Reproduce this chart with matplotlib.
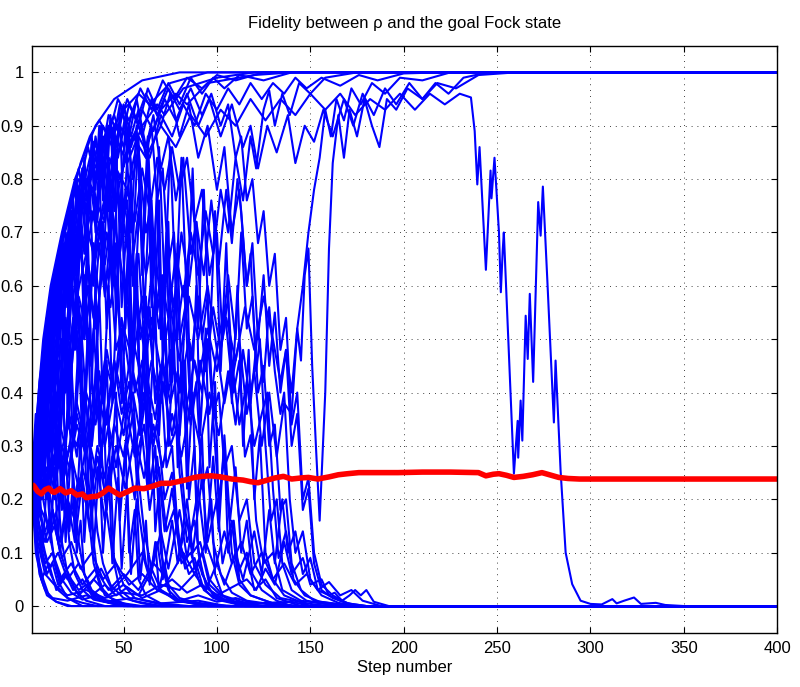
import matplotlib
matplotlib.use("Agg")
import matplotlib.pyplot as plt

# ---------------- data (step, fidelity) ----------------
up_a = [(1,.22),(3,.33),(5,.42),(7,.5),(11,.6),(17,.7),(24,.8),(35,.9),(45,.95),(60,.985),(80,1),(400,1)]
up_b = [(1,.22),(4,.34),(7,.44),(10,.52),(14,.6),(19,.68),(25,.75),(30,.8),(34,.78),(40,.87),(50,.93),(58,.96),(64,.94),(75,.98),(95,1),(400,1)]
up_c = [(1,.22),(4,.28),(8,.38),(12,.48),(16,.56),(20,.62),(23,.58),(28,.68),(33,.74),(36,.7),(42,.8),(48,.86),(52,.83),(60,.9),(68,.94),(72,.92),(82,.97),(100,.99),(120,1),(400,1)]
up_d = [(1,.22),(5,.3),(9,.36),(13,.44),(17,.5),(20,.46),(25,.58),(30,.66),(33,.6),(38,.72),(43,.8),(46,.76),(52,.86),(58,.9),(62,.86),(70,.93),(78,.96),(84,.94),(95,.98),(120,.995),(140,1),(400,1)]
scal_1 = [(1,.22),(3,.32),(6,.44),(9,.54),(13,.62),(17,.69),(22,.76),(27,.83),(32,.88),(37,.91),(42,.88),(47,.95),(53,.91),(59,.97),(65,.93),(71,.985),(77,.95),(84,.99),(92,.97),(100,.995),(110,.985),(125,1),(400,1)]
scal_2 = [(1,.22),(3,.3),(6,.4),(9,.5),(12,.58),(16,.66),(20,.72),(24,.78),(28,.74),(33,.84),(38,.8),(43,.9),(48,.86),(53,.94),(58,.9),(63,.97),(68,.93),(74,.98),(80,.94),(86,.99),(92,.96),(98,.99),(104,.97),(112,.995),(125,.985),(140,1),(400,1)]
late_1 = [(1,.22),(4,.26),(8,.3),(12,.26),(16,.34),(20,.28),(25,.38),(30,.3),(35,.42),(40,.34),(45,.46),(50,.38),(55,.5),(60,.42),(65,.54),(70,.44),(75,.56),(80,.46),(85,.58),(90,.5),(95,.6),(100,.48),(104,.56),(108,.42),(112,.5),(116,.36),(120,.44),(124,.3),(128,.4),(132,.28),(136,.38),(140,.36),(143,.52),(145,.46),(147,.62),(149,.67),(151,.45),(153,.3),(155,.16),(158,.4),(160,.67),(162,.83),(165,.92),(168,.84),(171,.93),(175,.88),(179,.95),(183,.9),(187,.86),(191,.95),(196,.93),(202,.97),(210,.95),(218,.98),(228,.97),(240,.995),(260,1),(400,1)]
late_2 = [(1,.22),(5,.24),(10,.3),(15,.26),(20,.34),(25,.3),(30,.4),(35,.34),(40,.46),(45,.4),(50,.52),(55,.46),(60,.58),(65,.5),(70,.62),(74,.54),(78,.66),(82,.58),(86,.7),(90,.62),(94,.74),(98,.66),(102,.78),(106,.7),(110,.84),(114,.76),(118,.88),(121,.82),(125,.93),(128,.966),(131,.9),(135,.96),(139,.92),(144,.98),(150,.96),(158,.99),(175,1),(400,1)]
late_3 = [(1,.22),(3,.3),(6,.42),(9,.52),(12,.6),(16,.67),(20,.72),(25,.79),(30,.76),(36,.86),(42,.82),(48,.9),(54,.86),(60,.93),(66,.89),(72,.95),(78,.91),(84,.96),(90,.9),(96,.95),(102,.88),(108,.94),(114,.86),(118,.9),(122,.82),(127,.9),(132,.85),(138,.92),(142,.83),(147,.9),(152,.87),(157,.93),(162,.88),(168,.95),(173,.9),(178,.96),(184,.92),(190,.97),(196,.94),(203,.98),(210,.95),(217,.98),(224,.96),(232,.99),(245,1),(400,1)]
late_4 = [(1,.22),(4,.28),(8,.36),(12,.46),(16,.54),(20,.62),(25,.7),(30,.66),(35,.76),(40,.72),(46,.82),(52,.78),(58,.88),(64,.84),(70,.92),(76,.88),(82,.94),(88,.9),(94,.96),(100,.93),(106,.97),(112,.94),(118,.98),(124,.95),(130,.98),(136,.96),(142,.99),(148,.97),(156,.99),(166,.975),(176,.995),(186,.985),(200,.998),(220,1),(400,1)]
late_5 = [(1,.22),(5,.26),(10,.22),(15,.3),(20,.24),(25,.34),(30,.28),(35,.38),(40,.3),(45,.4),(50,.32),(55,.44),(60,.36),(65,.46),(70,.38),(75,.48),(80,.4),(85,.5),(90,.42),(95,.52),(100,.44),(105,.54),(110,.46),(115,.56),(120,.48),(125,.58),(130,.5),(134,.42),(137,.48),(140,.4),(143,.52),(146,.6),(149,.7),(152,.78),(155,.84),(158,.93),(161,.88),(164,.95),(168,.91),(172,.97),(177,.94),(183,.98),(190,.96),(198,.99),(210,.985),(225,1),(400,1)]
long_fall = [(1,.22),(4,.32),(8,.44),(12,.54),(16,.62),(20,.68),(25,.74),(30,.8),(36,.76),(42,.84),(48,.8),(55,.88),(62,.84),(70,.9),(78,.86),(86,.92),(94,.88),(102,.93),(110,.9),(118,.95),(126,.91),(134,.95),(142,.92),(150,.96),(158,.93),(166,.96),(174,.92),(182,.95),(190,.93),(198,.96),(206,.93),(214,.96),(222,.94),(230,.96),(236,.953),(238,.89),(239.4,.79),(240.6,.86),(244,.63),(246.5,.816),(247,.764),(248.6,.84),(251,.70),(252,.588),(253,.666),(253.6,.70),(259,.248),(261,.347),(261.3,.278),(262.6,.385),(263.5,.31),(265.3,.544),(266.4,.463),(267.5,.585),(269.3,.42),(272,.757),(273.3,.694),(274.5,.786),(276.9,.61),(280.4,.344),(281.3,.46),(284,.253),(286.7,.10),(290.2,.041),(294.7,.01),(300,.004),(306,.003),(311.7,.013),(314,.005),(318,.01),(323.3,.016),(327,.004),(335,.006),(340,.002),(350,0),(400,0)]
jag_1 = [(1,.22),(4,.3),(7,.4),(9,.35),(12,.5),(14,.44),(17,.58),(19,.5),(22,.62),(24,.55),(27,.45),(30,.3),(33,.15),(36,.06),(40,.02),(50,.005),(60,0),(400,0)]
jag_2 = [(1,.22),(3,.28),(6,.38),(8,.33),(11,.48),(13,.42),(16,.6),(18,.52),(21,.7),(23,.62),(26,.72),(29,.6),(32,.45),(34,.52),(37,.35),(40,.2),(44,.1),(50,.04),(56,.015),(70,.003),(80,0),(400,0)]
jag_3 = [(1,.22),(4,.26),(7,.34),(10,.42),(12,.36),(15,.5),(18,.56),(20,.48),(24,.66),(27,.74),(29,.66),(32,.8),(35,.72),(38,.84),(41,.76),(44,.6),(46,.68),(49,.45),(52,.3),(55,.36),(58,.18),(62,.08),(68,.03),(80,.01),(100,.002),(110,0),(400,0)]
jag_4 = [(1,.22),(5,.3),(9,.42),(13,.55),(17,.66),(20,.6),(24,.74),(28,.82),(31,.76),(35,.88),(39,.8),(43,.9),(47,.84),(51,.92),(55,.8),(58,.86),(62,.7),(65,.76),(68,.55),(71,.62),(74,.4),(77,.45),(80,.25),(84,.12),(88,.16),(92,.06),(98,.02),(110,.005),(120,0),(400,0)]
jag_5 = [(1,.22),(4,.2),(7,.26),(10,.34),(13,.3),(16,.42),(19,.5),(22,.44),(26,.58),(30,.52),(34,.66),(37,.58),(41,.7),(45,.62),(49,.5),(52,.56),(56,.4),(60,.46),(64,.3),(68,.34),(72,.2),(76,.25),(80,.12),(85,.06),(90,.08),(96,.03),(105,.01),(115,0),(400,0)]
jag_6 = [(1,.22),(3,.3),(6,.42),(9,.54),(12,.6),(15,.64),(18,.7),(21,.74),(24,.7),(27,.8),(31,.86),(35,.8),(39,.9),(44,.86),(48,.94),(53,.88),(57,.95),(62,.86),(66,.92),(70,.82),(74,.88),(78,.76),(82,.84),(86,.66),(89,.72),(92,.5),(95,.58),(98,.35),(101,.2),(104,.28),(108,.1),(112,.04),(118,.02),(130,.005),(140,0),(400,0)]
jag_7 = [(1,.22),(4,.18),(8,.14),(12,.18),(16,.12),(20,.2),(24,.16),(28,.26),(32,.2),(36,.3),(40,.24),(45,.34),(50,.28),(55,.4),(59,.32),(63,.42),(67,.35),(71,.46),(75,.38),(79,.44),(83,.36),(88,.46),(92,.4),(95,.5),(98,.36),(101,.4),(104,.26),(108,.3),(112,.16),(116,.2),(120,.08),(126,.04),(134,.015),(150,.004),(160,0),(400,0)]
jag_8 = [(1,.22),(5,.26),(9,.32),(13,.4),(17,.36),(21,.48),(25,.56),(29,.5),(33,.62),(37,.7),(40,.64),(44,.74),(48,.66),(52,.78),(56,.72),(60,.82),(64,.74),(68,.84),(72,.78),(76,.86),(80,.78),(84,.84),(88,.72),(92,.78),(96,.62),(100,.7),(103,.5),(106,.58),(109,.4),(112,.46),(115,.28),(118,.32),(121,.16),(125,.08),(130,.1),(135,.03),(145,.01),(160,.003),(170,0),(400,0)]
jag_9 = [(1,.22),(4,.3),(8,.44),(12,.56),(16,.64),(20,.7),(24,.68),(28,.78),(32,.84),(36,.8),(40,.88),(45,.92),(50,.86),(55,.93),(60,.88),(65,.95),(70,.9),(75,.96),(80,.88),(85,.94),(90,.84),(95,.9),(100,.78),(104,.86),(108,.7),(112,.78),(116,.6),(119,.68),(122,.5),(125,.62),(128,.45),(131,.55),(134,.4),(137,.48),(140,.3),(143,.36),(146,.18),(149,.22),(152,.08),(156,.03),(162,.015),(170,.005),(180,0),(400,0)]
jag_10 = [(1,.22),(3,.3),(6,.4),(9,.5),(12,.58),(15,.65),(18,.7),(22,.76),(26,.8),(30,.78),(34,.87),(38,.84),(42,.92),(47,.89),(52,.95),(57,.91),(62,.96),(68,.92),(74,.97),(80,.93),(86,.97),(92,.92),(97,.96),(102,.9),(106,.94),(110,.84),(113,.88),(116,.76),(119,.8),(122,.68),(125,.74),(128,.6),(131,.66),(134,.48),(137,.54),(140,.34),(143,.4),(146,.2),(149,.24),(152,.1),(156,.04),(162,.02),(170,.005),(180,0),(400,0)]
jag_11 = [(1,.22),(4,.3),(7,.38),(10,.33),(13,.46),(16,.4),(19,.54),(22,.46),(25,.6),(28,.5),(31,.64),(34,.54),(37,.68),(40,.58),(43,.7),(46,.6),(50,.72),(54,.62),(58,.74),(62,.62),(66,.7),(70,.56),(74,.64),(78,.5),(82,.6),(86,.46),(90,.58),(94,.44),(98,.56),(102,.48),(106,.62),(110,.5),(113,.7),(116,.52),(119,.58),(122,.4),(125,.45),(128,.3),(131,.34),(134,.18),(137,.2),(140,.08),(145,.03),(152,.01),(165,.003),(175,0),(400,0)]
jag_12 = [(1,.22),(5,.2),(9,.26),(13,.22),(17,.3),(21,.26),(25,.36),(29,.3),(33,.42),(37,.34),(41,.48),(45,.4),(49,.54),(53,.44),(57,.58),(61,.48),(65,.62),(69,.52),(73,.66),(77,.56),(81,.7),(85,.6),(89,.72),(93,.62),(97,.76),(101,.64),(105,.78),(108,.68),(111,.8),(113,.74),(116,.6),(118,.66),(121,.44),(123,.5),(126,.3),(129,.16),(132,.2),(135,.08),(140,.03),(148,.01),(160,.003),(170,0),(400,0)]
jag_13 = [(1,.22),(6,.18),(11,.14),(16,.2),(21,.16),(26,.24),(31,.18),(36,.28),(41,.2),(46,.3),(51,.22),(56,.32),(61,.24),(66,.34),(71,.26),(76,.36),(81,.28),(86,.38),(91,.3),(96,.4),(101,.32),(106,.44),(110,.34),(114,.48),(118,.38),(122,.52),(125,.42),(128,.56),(131,.44),(134,.36),(136,.4),(139,.2),(142,.1),(146,.14),(150,.05),(156,.02),(165,.006),(175,0),(400,0)]
swing_1 = [(1,.22),(3,.3),(5,.24),(7,.4),(9,.3),(11,.52),(13,.38),(15,.6),(17,.44),(19,.66),(21,.5),(23,.7),(25,.52),(27,.72),(29,.5),(31,.68),(33,.42),(35,.6),(37,.3),(39,.44),(41,.18),(43,.26),(45,.08),(48,.03),(55,.01),(70,0),(400,0)]
swing_2 = [(1,.22),(3,.28),(5,.2),(8,.36),(10,.26),(12,.46),(14,.34),(17,.56),(19,.42),(22,.64),(24,.48),(27,.72),(29,.56),(32,.78),(34,.6),(37,.82),(39,.62),(42,.84),(44,.62),(47,.8),(49,.56),(52,.74),(54,.46),(57,.66),(59,.36),(62,.5),(64,.22),(67,.3),(70,.1),(74,.04),(80,.015),(95,0),(400,0)]
swing_3 = [(1,.22),(3,.18),(5,.28),(7,.2),(9,.34),(11,.22),(13,.4),(15,.26),(17,.44),(19,.28),(21,.48),(23,.3),(26,.5),(28,.3),(31,.52),(33,.3),(36,.5),(38,.26),(41,.46),(43,.22),(46,.4),(48,.16),(51,.3),(53,.1),(56,.18),(58,.05),(62,.02),(70,.005),(85,0),(400,0)]
swing_4 = [(1,.22),(3,.3),(6,.42),(8,.34),(10,.54),(12,.44),(14,.62),(16,.5),(18,.68),(20,.56),(23,.76),(25,.62),(28,.82),(30,.66),(33,.86),(35,.7),(38,.9),(40,.72),(43,.92),(45,.74),(48,.93),(50,.72),(53,.9),(55,.68),(58,.88),(60,.62),(63,.84),(65,.56),(68,.78),(70,.5),(73,.7),(75,.42),(78,.6),(80,.32),(83,.46),(85,.2),(88,.3),(90,.1),(94,.04),(100,.015),(115,0),(400,0)]
swing_5 = [(1,.22),(4,.26),(6,.2),(9,.32),(11,.24),(14,.4),(16,.3),(19,.48),(21,.36),(24,.56),(26,.42),(29,.62),(31,.46),(34,.68),(36,.5),(39,.72),(41,.52),(44,.76),(46,.54),(49,.78),(51,.56),(54,.8),(56,.56),(59,.8),(61,.54),(64,.78),(66,.5),(69,.76),(71,.46),(74,.72),(76,.42),(79,.68),(81,.4),(84,.64),(86,.36),(89,.6),(91,.32),(94,.52),(96,.26),(99,.42),(101,.18),(104,.3),(106,.1),(109,.16),(112,.05),(118,.02),(130,.005),(145,0),(400,0)]
swing_6 = [(1,.22),(3,.14),(5,.22),(7,.12),(9,.24),(11,.12),(13,.26),(15,.12),(17,.28),(19,.12),(22,.3),(24,.12),(27,.32),(29,.12),(32,.3),(34,.1),(37,.28),(39,.1),(42,.26),(44,.08),(47,.24),(49,.07),(52,.22),(54,.06),(57,.2),(59,.05),(62,.16),(64,.04),(67,.12),(69,.03),(72,.08),(75,.02),(80,.01),(95,0),(400,0)]
swing_7 = [(1,.22),(3,.33),(5,.4),(7,.34),(9,.54),(11,.46),(13,.62),(15,.54),(17,.69),(19,.6),(21,.75),(23,.66),(25,.8),(27,.7),(29,.84),(31,.74),(33,.88),(35,.78),(37,.9),(39,.76),(41,.9),(43,.7),(45,.86),(47,.62),(49,.8),(51,.52),(53,.72),(55,.42),(57,.62),(59,.32),(61,.5),(63,.22),(65,.36),(67,.14),(69,.22),(71,.07),(74,.03),(80,.01),(95,0),(400,0)]
swing_8 = [(1,.22),(4,.2),(7,.3),(9,.22),(12,.36),(14,.26),(17,.42),(19,.3),(22,.46),(24,.32),(27,.5),(29,.34),(32,.54),(34,.36),(37,.58),(39,.38),(42,.6),(44,.38),(47,.62),(49,.38),(52,.62),(54,.38),(57,.6),(59,.36),(62,.58),(64,.34),(67,.56),(69,.32),(72,.54),(74,.3),(77,.5),(79,.26),(82,.46),(84,.22),(87,.4),(89,.18),(92,.32),(94,.12),(97,.2),(99,.06),(103,.02),(110,.005),(125,0),(400,0)]
swing_9 = [(1,.22),(3,.26),(5,.18),(7,.3),(9,.2),(11,.34),(13,.2),(15,.34),(17,.18),(19,.3),(21,.14),(23,.24),(25,.1),(27,.16),(29,.06),(32,.03),(38,.01),(50,0),(400,0)]
swing_10 = [(1,.22),(3,.3),(5,.38),(7,.32),(9,.48),(11,.42),(13,.58),(15,.5),(17,.64),(19,.56),(21,.7),(24,.62),(27,.78),(30,.68),(33,.84),(36,.72),(39,.88),(42,.74),(45,.9),(48,.72),(51,.9),(54,.7),(57,.9),(60,.66),(63,.88),(66,.62),(69,.86),(72,.6),(75,.86),(78,.58),(81,.84),(84,.56),(87,.82),(90,.52),(93,.78),(96,.48),(99,.74),(102,.44),(105,.68),(108,.38),(111,.6),(114,.3),(117,.48),(120,.2),(123,.32),(126,.1),(130,.05),(136,.02),(150,0),(400,0)]
fan_1 = [(1,.22),(2,.28),(3,.34),(4,.3),(5,.38),(6,.33),(7,.44),(8,.36),(9,.3),(10,.22),(11,.14),(13,.08),(16,.04),(20,.015),(28,0),(400,0)]
fan_2 = [(1,.22),(2,.26),(3,.22),(4,.3),(5,.25),(6,.34),(7,.28),(8,.4),(9,.32),(10,.46),(11,.38),(12,.5),(13,.4),(14,.3),(15,.2),(17,.12),(20,.06),(24,.03),(30,.01),(40,0),(400,0)]
fan_3 = [(1,.22),(2,.2),(3,.26),(4,.22),(5,.3),(6,.24),(7,.34),(8,.26),(9,.36),(10,.28),(11,.4),(12,.3),(13,.42),(14,.32),(15,.46),(16,.34),(17,.5),(18,.36),(19,.52),(20,.38),(22,.3),(24,.2),(26,.12),(29,.06),(33,.03),(40,.01),(50,0),(400,0)]
fan_4 = [(1,.22),(2,.3),(3,.36),(4,.32),(5,.4),(6,.36),(7,.46),(8,.4),(9,.5),(10,.44),(11,.56),(12,.48),(13,.6),(14,.52),(15,.64),(16,.56),(17,.66),(18,.58),(19,.7),(20,.6),(21,.72),(22,.62),(23,.74),(25,.6),(27,.46),(29,.3),(31,.18),(34,.08),(38,.03),(45,.01),(55,0),(400,0)]
spike_1 = [(1,.22),(3,.1),(6,.05),(10,.08),(14,.03),(20,.06),(26,.02),(34,.05),(42,.02),(50,.04),(58,.02),(64,.06),(68,.12),(71,.05),(76,.16),(79,.08),(84,.2),(87,.1),(92,.24),(95,.12),(100,.2),(103,.08),(108,.16),(111,.06),(116,.1),(120,.03),(126,.05),(132,.015),(145,0),(400,0)]
spike_2 = [(1,.22),(4,.12),(8,.06),(13,.04),(20,.02),(30,.03),(40,.015),(50,.025),(60,.02),(70,.04),(80,.03),(88,.06),(94,.03),(100,.08),(104,.04),(110,.1),(114,.05),(120,.14),(124,.06),(128,.18),(131,.08),(135,.2),(138,.1),(142,.14),(146,.06),(150,.09),(154,.03),(160,.02),(166,.01),(175,0),(400,0)]
spike_3 = [(1,.22),(3,.18),(6,.12),(10,.07),(15,.1),(20,.05),(26,.08),(32,.04),(38,.07),(44,.03),(52,.06),(60,.1),(64,.05),(70,.14),(74,.07),(80,.18),(84,.09),(90,.22),(94,.1),(98,.28),(101,.14),(104,.32),(107,.16),(110,.26),(113,.1),(116,.16),(119,.06),(124,.03),(132,.01),(140,0),(400,0)]
mid_1 = [(1,.22),(4,.16),(8,.12),(12,.18),(16,.1),(20,.2),(24,.12),(28,.24),(32,.14),(36,.26),(40,.16),(44,.28),(48,.18),(52,.3),(56,.2),(60,.32),(64,.18),(68,.28),(72,.14),(76,.22),(80,.1),(84,.16),(88,.07),(92,.1),(96,.04),(102,.02),(110,.008),(130,.003),(140,0),(400,0)]
mid_2 = [(1,.22),(5,.28),(9,.22),(13,.32),(17,.26),(21,.36),(25,.28),(29,.4),(33,.3),(37,.44),(41,.34),(45,.46),(49,.36),(53,.42),(57,.28),(61,.34),(65,.22),(69,.26),(73,.14),(77,.18),(81,.08),(86,.1),(91,.04),(98,.015),(110,.005),(120,0),(400,0)]
mid_3 = [(1,.22),(6,.2),(11,.26),(16,.2),(21,.3),(26,.22),(31,.32),(36,.24),(41,.36),(46,.26),(51,.38),(56,.28),(61,.4),(66,.3),(71,.42),(76,.32),(81,.44),(86,.34),(91,.46),(96,.36),(100,.48),(104,.38),(108,.46),(112,.34),(116,.42),(120,.3),(124,.36),(127,.4),(130,.22),(133,.09),(137,.14),(141,.05),(147,.02),(155,.008),(170,.002),(180,0),(400,0)]
crash_1 = [(1,.22),(3,.27),(5,.33),(7,.3),(9,.38),(11,.34),(13,.42),(15,.36),(17,.28),(19,.2),(21,.12),(24,.06),(28,.03),(34,.012),(45,.004),(55,0),(400,0)]
crash_2 = [(1,.22),(4,.3),(7,.42),(10,.52),(12,.46),(15,.6),(17,.54),(20,.66),(22,.58),(25,.5),(27,.54),(30,.38),(33,.26),(36,.14),(39,.08),(43,.04),(50,.015),(60,.005),(70,0),(400,0)]
crash_3 = [(1,.22),(3,.32),(5,.42),(8,.5),(11,.58),(14,.62),(17,.68),(19,.6),(22,.74),(25,.66),(28,.8),(31,.7),(34,.66),(37,.72),(40,.6),(43,.64),(46,.48),(49,.52),(52,.36),(55,.4),(58,.24),(61,.14),(65,.07),(70,.03),(78,.01),(90,.003),(100,0),(400,0)]
crash_4 = [(1,.22),(4,.24),(8,.3),(12,.38),(16,.46),(19,.4),(23,.54),(27,.48),(31,.6),(35,.52),(39,.64),(43,.56),(47,.68),(51,.58),(55,.66),(59,.5),(63,.56),(67,.4),(71,.46),(75,.3),(79,.34),(83,.18),(87,.1),(91,.12),(96,.05),(103,.02),(115,.006),(125,0),(400,0)]
crash_5 = [(1,.22),(3,.32),(6,.44),(9,.54),(12,.6),(15,.66),(18,.7),(22,.76),(26,.82),(30,.74),(34,.86),(38,.8),(42,.9),(46,.86),(50,.94),(54,.88),(58,.93),(62,.84),(65,.9),(68,.76),(71,.82),(74,.64),(77,.7),(80,.5),(83,.56),(86,.36),(89,.42),(92,.22),(95,.26),(98,.12),(102,.06),(108,.025),(116,.01),(130,.003),(140,0),(400,0)]
crash_6 = [(1,.22),(4,.34),(7,.46),(10,.56),(13,.6),(16,.66),(19,.62),(22,.74),(25,.7),(28,.8),(31,.76),(34,.86),(37,.8),(40,.88),(43,.78),(46,.84),(49,.7),(52,.76),(55,.6),(58,.66),(61,.5),(64,.56),(67,.38),(70,.44),(73,.26),(76,.3),(79,.14),(83,.07),(88,.09),(93,.03),(100,.012),(110,.004),(120,0),(400,0)]
low_1 = [(1,.22),(3,.16),(6,.1),(9,.06),(12,.08),(15,.04),(19,.06),(23,.03),(28,.05),(33,.02),(40,.04),(46,.02),(52,.035),(60,.015),(70,.03),(80,.01),(90,.02),(100,.008),(110,.015),(120,.005),(140,.008),(150,0),(400,0)]
low_2 = [(1,.22),(4,.14),(8,.08),(12,.1),(16,.05),(22,.08),(28,.04),(35,.07),(42,.03),(50,.06),(58,.03),(66,.08),(74,.05),(82,.1),(88,.06),(94,.12),(99,.07),(104,.14),(108,.08),(113,.12),(118,.06),(124,.1),(130,.05),(136,.08),(142,.04),(148,.06),(154,.03),(160,.045),(166,.02),(172,.03),(178,.01),(188,0),(400,0)]
low_3 = [(1,.22),(3,.12),(5,.06),(8,.03),(12,.015),(20,.01),(30,.02),(40,.008),(55,.015),(70,.005),(90,.01),(105,0),(400,0)]
low_4 = [(1,.22),(2,.18),(4,.1),(6,.05),(9,.02),(14,.008),(22,0),(400,0)]
low_5 = [(1,.22),(5,.18),(9,.12),(13,.15),(17,.09),(22,.12),(27,.07),(33,.1),(39,.05),(46,.08),(53,.04),(60,.06),(68,.03),(76,.05),(84,.025),(92,.04),(100,.02),(108,.035),(116,.05),(121,.03),(126,.07),(131,.04),(136,.12),(140,.06),(146,.09),(150,.04),(156,.05),(160,.02),(163,.025),(167,.01),(171,.02),(174,.03),(177,.02),(180,.03),(184,.008),(192,0),(400,0)]
quick_1 = [(1,.22),(2,.17),(3,.13),(5,.08),(7,.05),(10,.02),(14,.008),(20,0),(400,0)]
quick_2 = [(1,.22),(3,.2),(5,.15),(8,.1),(11,.06),(15,.03),(20,.015),(28,.006),(36,0),(400,0)]
quick_3 = [(1,.22),(4,.24),(7,.2),(10,.14),(13,.09),(17,.05),(22,.025),(28,.012),(36,.02),(42,.006),(52,0),(400,0)]
quick_4 = [(1,.22),(3,.25),(6,.28),(9,.24),(12,.18),(15,.12),(18,.08),(22,.05),(26,.03),(30,.04),(35,.015),(45,.008),(55,0),(400,0)]

mean_steps = [1,2,4,6,8,10,12,13,16,19,22,25,28,30,33,36,39,42,45,48,52,56,61,66,70,75,79,84,88,92,97,102,108,114,118,122,126,131,135.6,140,145,149,154,160,165,170,176,185,197,210,225,240,244,248,251,255,259,264,269,274,278,283,288,294,400]
mean_fid = [.228,.225,.215,.21,.218,.221,.214,.213,.22,.212,.216,.208,.21,.203,.205,.206,.212,.221,.214,.208,.214,.221,.22,.225,.23,.23,.233,.237,.241,.243,.244,.242,.238,.236,.233,.231,.235,.24,.243,.238,.24,.241,.238,.242,.246,.248,.25,.25,.25,.251,.251,.25,.244,.247,.248,.245,.241,.243,.246,.25,.246,.241,.239,.238,.238]

x_ticks = [50, 100, 150, 200, 250, 300, 350, 400]
y_ticks = [0, 0.1, 0.2, 0.3, 0.4, 0.5, 0.6, 0.7, 0.8, 0.9, 1]
y_tick_labels = ['0', '0.1', '0.2', '0.3', '0.4', '0.5', '0.6', '0.7', '0.8', '0.9', '1']

blue_curves = [quick_1, quick_2, quick_3, quick_4, low_1, low_2, low_3, low_4, low_5,
               spike_1, spike_2, spike_3, fan_1, fan_2, fan_3, fan_4,
               mid_1, mid_2, mid_3, crash_1, crash_2, crash_3, crash_4, crash_5, crash_6,
               swing_1, swing_2, swing_3, swing_4, swing_5, swing_6, swing_7, swing_8,
               swing_9, swing_10,
               jag_1, jag_2, jag_3, jag_4, jag_5, jag_6, jag_7, jag_8, jag_9, jag_10,
               jag_11, jag_12, jag_13, long_fall, late_1, late_2, late_3, late_4, late_5,
               scal_1, scal_2, up_a, up_b, up_c, up_d]

# ---------------- drawing ----------------
plt.rcParams['font.family'] = ['Liberation Sans', 'DejaVu Sans']
fig = plt.figure(figsize=(8.0, 6.87), dpi=100)
ax = fig.add_axes([0.040, 0.079, 0.9316, 0.8545])

for c in blue_curves:
    xs, ys = zip(*c)
    ax.plot(xs, ys, color=(0, 0, 1), lw=1.5, solid_joinstyle='round')

ax.plot(mean_steps, mean_fid, color=(1, 0, 0), lw=4.0, solid_capstyle='butt')

ax.set_xlim(1, 400)
ax.set_ylim(-0.05, 1.05)
ax.set_xticks(x_ticks)
ax.set_yticks(y_ticks)
ax.set_yticklabels(y_tick_labels)
ax.grid(True, color='black', linestyle=(0, (1, 6)), linewidth=0.6)
ax.tick_params(direction='in', length=4, width=0.8, top=True, right=True,
               labelsize=12, pad=6)
for s in ax.spines.values():
    s.set_linewidth(1.0)
ax.set_title('Fidelity between ρ and the goal Fock state', fontsize=12, pad=13)
ax.set_xlabel('Step number', fontsize=12, labelpad=3)

fig.savefig('out.png', dpi=100)
